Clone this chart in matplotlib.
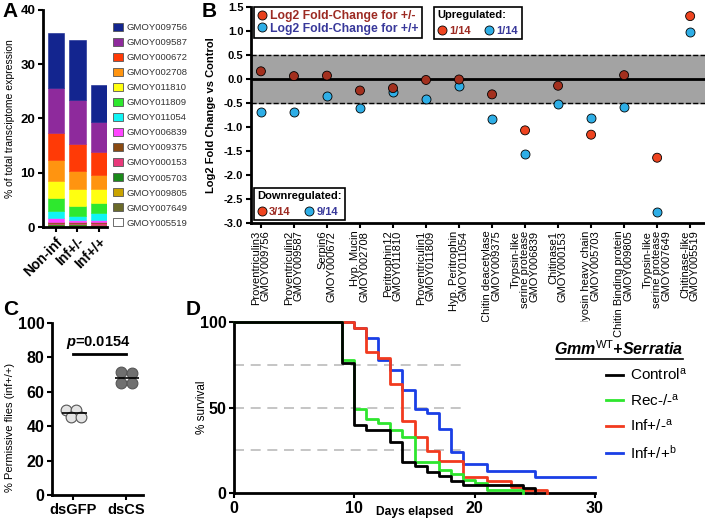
import numpy as np
import matplotlib.pyplot as plt
from matplotlib.patches import Patch
from matplotlib.lines import Line2D

plt.rcParams['font.family'] = 'Liberation Sans'
plt.rcParams['mathtext.fontset'] = 'custom'
plt.rcParams['mathtext.rm'] = 'Liberation Sans'
plt.rcParams['mathtext.it'] = 'Liberation Sans:italic:bold'
plt.rcParams['mathtext.bf'] = 'Liberation Sans:bold'

# ---- panel A data (legend order, top of stack first)
genes = ['GMOY009756', 'GMOY009587', 'GMOY000672', 'GMOY002708', 'GMOY011810',
         'GMOY011809', 'GMOY011054', 'GMOY006839', 'GMOY009375', 'GMOY000153',
         'GMOY005703', 'GMOY009805', 'GMOY007649', 'GMOY005519']
gene_colors = ['#13258f', '#8e2a9c', '#ff3a06', '#ff9410', '#ffff10', '#2ee82e',
               '#10f4f4', '#ff44ff', '#8a4a12', '#e8387a', '#1a8a1a', '#c9a300',
               '#6a6a2a', '#ffffff']
groups_a = ['Non-inf', 'Inf+/-', 'Inf+/+']
pct_noninf = [10.14, 8.29, 4.92, 3.81, 3.13, 2.40, 1.29, 0.86, 0.2, 0.15, 0.15, 0.1, 0.15, 0.1]
pct_het = [11.07, 8.10, 5.00, 3.23, 3.20, 1.84, 0.74, 0.30, 0.25, 0.2, 0.15, 0.15, 0.15, 0.1]
pct_hom = [6.90, 5.60, 4.10, 2.60, 2.60, 1.90, 1.30, 0.40, 0.2, 0.2, 0.1, 0.1, 0.15, 0.1]

# ---- panel B data
b_labels = ['Proventriculin3\nGMOY009756', 'Proventriculin2\nGMOY009587', 'Serpin6\nGMOY000672',
            'Hyp. Mucin\nGMOY002708', 'Peritrophin12\nGMOY011810', 'Proventriculin1\nGMOY011809',
            'Hyp. Peritrophin\nGMOY011054', 'Chitin deacetylase\nGMOY009375',
            'Trypsin-like\nserine protease\nGMOY006839', 'Chitinase1\nGMOY000153',
            'Myosin heavy chain\nGMOY005703', 'Chitin Binding protein\nGMOY009805',
            'Trypsin-like\nserine protease\nGMOY007649', 'Chitinase-like\nGMOY005519']
fc_het = [0.16, 0.06, 0.07, -0.24, -0.19, -0.02, -0.01, -0.32, -1.07, -0.14, -1.16, 0.08, -1.64, 1.31]
fc_hom = [-0.68, -0.68, -0.36, -0.60, -0.27, -0.41, -0.14, -0.84, -1.56, -0.52, -0.81, -0.58, -2.78, 0.98]

# ---- panel C data
c_groups = ['dsGFP', 'dsCS']
perm_gfp = [49.5, 49.5, 45.5, 45.5]
perm_cs = [71.5, 71.0, 65.0, 65.0]

# ---- panel D data (Kaplan-Meier steps)
days_ctrl = [0, 9, 10, 11, 13, 14, 15, 16, 17, 18, 19, 24, 25]
surv_ctrl = [100, 76, 40, 37, 30, 18, 15.5, 12.5, 9.8, 7, 4.7, 2.7, 0]
days_rec = [0, 9, 10, 11, 12, 13, 14, 15, 17, 18, 19, 20, 21, 24]
surv_rec = [100, 78, 49, 43, 41, 37, 33, 18, 13.7, 11.3, 7.8, 5.7, 1.8, 0]
days_het = [0, 10, 11, 12, 13, 14, 15, 16, 17, 19, 21, 23, 24, 26]
surv_het = [100, 96.6, 82.6, 79, 63.5, 42, 33, 24.5, 19, 9.5, 7.2, 3.3, 1.8, 0]
days_hom = [0, 10, 11, 12, 13, 14, 15, 16, 17, 18, 19, 21, 25, 30]
surv_hom = [100, 96.6, 90.8, 77.7, 71.9, 60.5, 49.3, 47, 37.5, 24, 17, 13, 9.2, 9.2]

W, H = 705, 518
fig = plt.figure(figsize=(W / 100, H / 100), dpi=100)


def ax_px(l, t, r, b):
    return fig.add_axes([l / W, 1 - b / H, (r - l) / W, (b - t) / H])


def style(ax, size):
    for s in ['top', 'right']:
        ax.spines[s].set_visible(False)
    for s in ['left', 'bottom']:
        ax.spines[s].set_linewidth(2)
    ax.tick_params(width=1.5, length=3.5, pad=2, labelsize=size)
    for t in ax.get_xticklabels() + ax.get_yticklabels():
        t.set_fontweight('bold')


# ================= A
axA = ax_px(43, 10, 107, 227)
x = np.arange(3)
bottom = np.zeros(3)
for i in range(len(genes) - 1, -1, -1):
    h = np.array([pct_noninf[i], pct_het[i], pct_hom[i]])
    ec = '#999999' if gene_colors[i] == '#ffffff' else gene_colors[i]
    axA.bar(x, h, 0.75, bottom=bottom, color=gene_colors[i], edgecolor=ec, linewidth=0.4)
    bottom += h
axA.set_xlim(-0.6, 2.37)
axA.set_ylim(0, 40)
axA.set_yticks([0, 10, 20, 30, 40])
axA.set_xticks(x)
axA.set_xticklabels(groups_a, rotation=45, ha='right', rotation_mode='anchor')
style(axA, 9.5)
for t in axA.get_xticklabels():
    t.set_fontsize(10)
axA.set_ylabel('% of total transciptome expression', fontsize=7.5)
axA.yaxis.set_label_coords(-0.44, 0.5)
handles = [Patch(facecolor=c, edgecolor='#555555', linewidth=0.6) for c in gene_colors]
legA = axA.legend(handles, genes, loc='upper left', bbox_to_anchor=(113 / W, 1 - 23 / H),
                  bbox_transform=fig.transFigure, frameon=False, fontsize=6.8,
                  handlelength=1.1, handleheight=0.9, handletextpad=0.35,
                  labelspacing=0.62, borderpad=0, borderaxespad=0)
for t in legA.get_texts():
    t.set_color('#333333')

# ================= B
axB = ax_px(251, 7, 705, 223)
xb = np.arange(len(b_labels))
axB.axhspan(-0.5, 0.5, color='#a3a3a3', zorder=0)
axB.axhline(0.5, color='black', ls='--', lw=1, zorder=1)
axB.axhline(-0.5, color='black', ls='--', lw=1, zorder=1)
axB.axhline(0, color='black', lw=2, zorder=1)
red_cols = ['#ee4420' if abs(v) > 0.5 else '#a3301e' for v in fc_het]
axB.scatter(xb, fc_hom, s=42, c='#2eaee6', edgecolors='black', linewidths=0.6, zorder=3)
axB.scatter(xb, fc_het, s=42, c=red_cols, edgecolors='black', linewidths=0.6, zorder=4)
axB.set_xlim(-0.3, 13.45)
axB.set_ylim(-3.0, 1.5)
axB.set_yticks(np.arange(-3.0, 1.51, 0.5))
axB.yaxis.set_major_formatter(plt.FormatStrFormatter('%.1f'))
axB.set_xticks(xb)
axB.set_xticklabels(b_labels, rotation=90, ha='center', va='top', multialignment='right',
                    linespacing=0.95)
style(axB, 8)
for t in axB.get_xticklabels():
    t.set_fontweight('normal')
    t.set_fontsize(8)
axB.set_ylabel('Log2 Fold Change vs Control', fontsize=8, fontweight='bold')
axB.yaxis.set_label_coords(-0.077, 0.5)

red_t, blue_t = '#9c2a22', '#38389a'
mk = dict(marker='o', ls='none', markeredgecolor='black', markeredgewidth=0.6, markersize=6.5)
h1 = [Line2D([], [], markerfacecolor='#e8401c', **mk), Line2D([], [], markerfacecolor='#2eaee6', **mk)]
leg1 = axB.legend(h1, ['Log2 Fold-Change for +/-', 'Log2 Fold-Change for +/+'],
                  loc='upper left', bbox_to_anchor=(0.006, 1.0), fancybox=False,
                  edgecolor='black', prop={'weight': 'bold', 'size': 8.8},
                  handlelength=0.8, handletextpad=0.3, labelspacing=0.05, borderpad=0.25,
                  borderaxespad=0, framealpha=1)
leg1.get_frame().set_linewidth(1.2)
leg1.get_texts()[0].set_color(red_t)
leg1.get_texts()[1].set_color(blue_t)
axB.add_artist(leg1)

h2 = [Line2D([], [], markerfacecolor='#ee4420', **mk), Line2D([], [], markerfacecolor='#2eaee6', **mk)]
leg2 = axB.legend(h2, ['1/14', '1/14'], title='Upregulated:', ncol=2,
                  loc='upper left', bbox_to_anchor=(0.403, 1.0), fancybox=False,
                  edgecolor='black', prop={'weight': 'bold', 'size': 8},
                  title_fontproperties={'weight': 'bold', 'size': 8},
                  handlelength=0.8, handletextpad=0.3, columnspacing=1.2, borderpad=0.3,
                  borderaxespad=0, framealpha=1)
leg2._legend_box.align = 'left'
leg2.get_frame().set_linewidth(1.2)
leg2.get_texts()[0].set_color(red_t)
leg2.get_texts()[1].set_color(blue_t)
axB.add_artist(leg2)

leg3 = axB.legend(h2, ['3/14', '9/14'], title='Downregulated:', ncol=2,
                  loc='lower left', bbox_to_anchor=(0.006, 0.014), fancybox=False,
                  edgecolor='black', prop={'weight': 'bold', 'size': 8},
                  title_fontproperties={'weight': 'bold', 'size': 8},
                  handlelength=0.8, handletextpad=0.3, columnspacing=1.2, borderpad=0.3,
                  borderaxespad=0, framealpha=1)
leg3._legend_box.align = 'left'
leg3.get_frame().set_linewidth(1.2)
leg3.get_texts()[0].set_color(red_t)
leg3.get_texts()[1].set_color(blue_t)

# ================= C
axC = ax_px(52, 323, 143, 495)
off = [-0.12, 0.07, -0.03, 0.16]
axC.scatter(np.zeros(4) + off, perm_gfp, s=60, c='#e4e4e4', edgecolors='#555555',
            linewidths=0.8, zorder=3, clip_on=False)
axC.scatter(np.ones(4) + np.array([-0.09, 0.11, -0.09, 0.11]), perm_cs, s=60, c='#707070',
            edgecolors='#555555', linewidths=0.8, zorder=3, clip_on=False)
axC.hlines(np.mean(perm_gfp), -0.21, 0.26, color='black', lw=1.2, zorder=4)
axC.hlines(np.mean(perm_cs), 0.79, 1.25, color='black', lw=1.2, zorder=4)
axC.plot([0, 1], [82, 82], color='black', lw=2)
axC.text(0.47, 83.5, '$\\mathit{p}$=0.0154', ha='center', va='bottom', fontsize=10.5,
         fontweight='bold')
axC.set_xlim(-0.39, 1.32)
axC.set_ylim(0, 100)
axC.set_yticks([0, 20, 40, 60, 80, 100])
axC.set_xticks([0, 1])
axC.set_xticklabels(c_groups)
style(axC, 11.5)
for t in axC.get_xticklabels():
    t.set_fontsize(10.5)
axC.set_ylabel('% Permissive flies (inf+/+)', fontsize=8)
axC.yaxis.set_label_coords(-0.41, 0.395)

# ================= D
axD = ax_px(234, 322, 595, 493)
for yv in [25, 50, 75]:
    axD.hlines(yv, 0, 19, color='#bbbbbb', lw=1.2, linestyles=(0, (6, 4)), zorder=1)
curves = [(days_hom, surv_hom, '#1a3fe6', 'Inf+/+$^{\\mathrm{b}}$'),
          (days_het, surv_het, '#f23a1e', 'Inf+/-$^{\\mathrm{a}}$'),
          (days_rec, surv_rec, '#2ee62e', 'Rec-/-$^{\\mathrm{a}}$'),
          (days_ctrl, surv_ctrl, '#000000', 'Control$^{\\mathrm{a}}$')]
lines = {}
for d, s, c, lab in curves:
    ln, = axD.step(d, s, where='post', color=c, lw=2, clip_on=False, zorder=3)
    lines[lab] = ln
axD.set_xlim(0, 30)
axD.set_ylim(0, 100)
axD.set_xticks([0, 10, 20, 30])
axD.set_yticks([0, 50, 100])
style(axD, 11.5)
axD.set_xlabel('Days elapsed', fontsize=8.7, fontweight='bold')
axD.xaxis.set_label_coords(0.5, -0.075)
axD.set_ylabel('% survival', fontsize=8.5)
axD.yaxis.set_label_coords(-0.072, 0.5)
order = ['Control$^{\\mathrm{a}}$', 'Rec-/-$^{\\mathrm{a}}$', 'Inf+/-$^{\\mathrm{a}}$', 'Inf+/+$^{\\mathrm{b}}$']
legD = axD.legend([lines[k] for k in order], order, loc='upper left',
                  bbox_to_anchor=(606 / W, 1 - 367 / H), bbox_transform=fig.transFigure,
                  frameon=False, fontsize=11, handlelength=1.1, handletextpad=0.5,
                  labelspacing=0.62, borderpad=0, borderaxespad=0)
fig.text(619 / W, 1 - 349 / H, 'Gmm$^{\\mathrm{WT}}$+Serratia', ha='center', va='center',
         fontsize=11.5, fontweight='bold', style='italic')
fig.add_artist(Line2D([556 / W, 683 / W], [1 - 359 / H, 1 - 359 / H], color='black', lw=1.2))

# panel letters
for lt, px, py in [('A', 2, 2), ('B', 202, 2), ('C', 3, 300), ('D', 186, 300)]:
    fig.text(px / W, 1 - py / H, lt, fontsize=15, fontweight='bold', ha='left', va='top')

plt.savefig('out.png', dpi=100)
